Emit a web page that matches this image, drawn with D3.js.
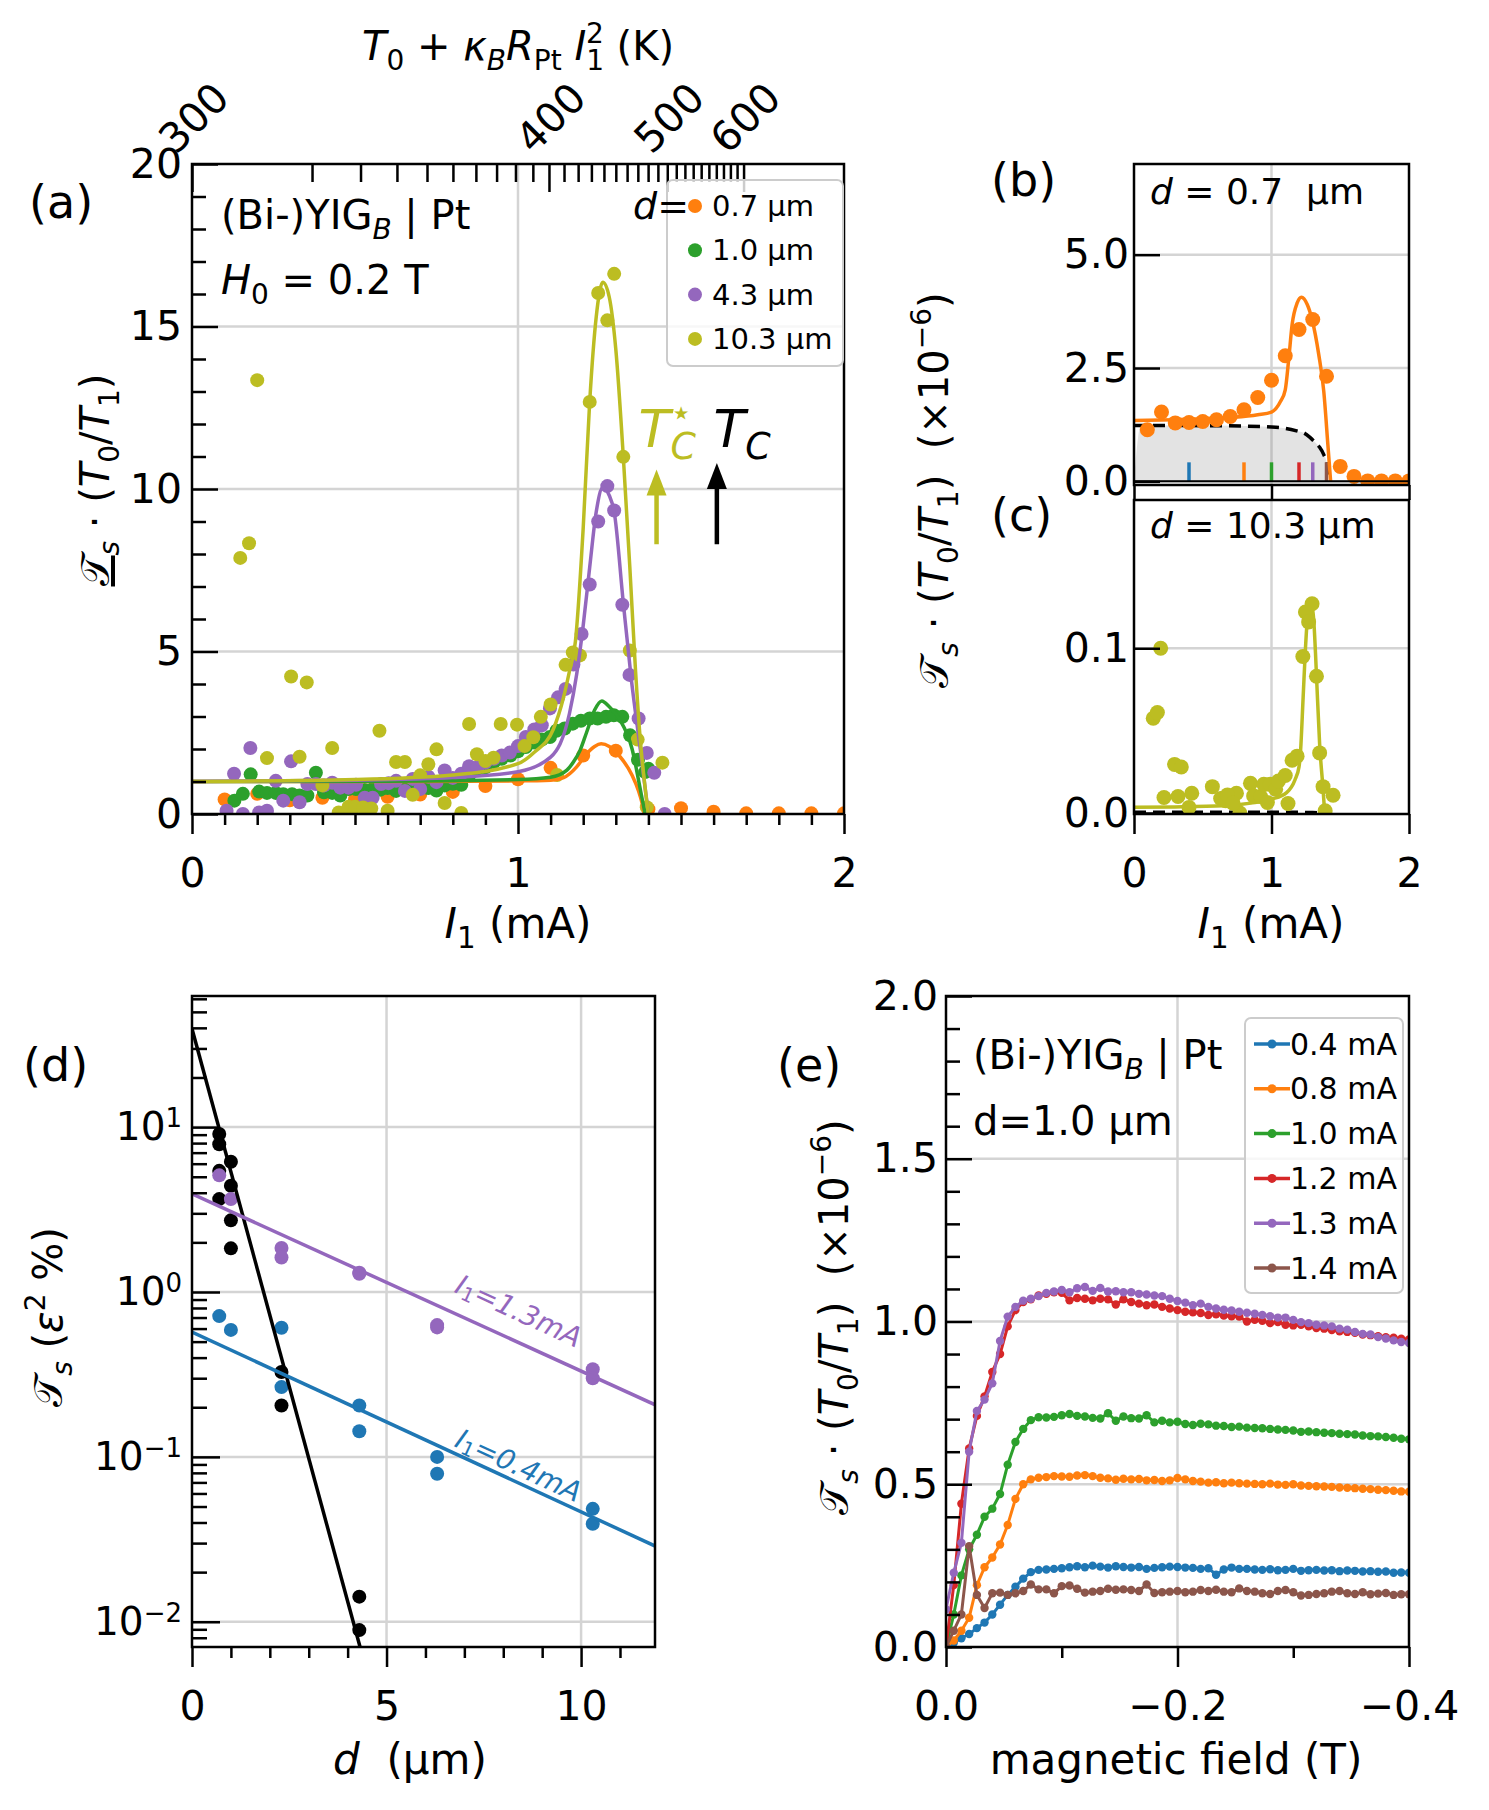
<!DOCTYPE html>
<html>
<head>
<meta charset="utf-8">
<script src="https://cdn.jsdelivr.net/npm/d3@7"></script>
<style>
  body { margin: 0; background: #fff; }
  text { font-family: "DejaVu Sans", sans-serif; fill: #000; white-space: pre; }
</style>
</head>
<body>
<svg id="fig"></svg>
<script>
// ---------------- data ----------------
// (a) normalised signal vs I1 (mA), one array per thickness
var aOrange = [[0.1,0.45],[0.2,0.62],[0.3,0.42],[0.4,0.5],[0.5,0.45],[0.6,0.53],[0.7,0.6],[0.8,0.68],[0.9,0.86],[1.0,1.07],
  [1.1,1.42],[1.2,1.8],[1.3,1.95],[1.4,0.15],[1.5,0.18],[1.6,0.07],[1.7,0.02],[1.8,0.02],[1.9,0.02],[2.0,0.02]];
var aGreen = [[0.13,0.41],[0.156,0.62],[0.18,1.22],[0.206,0.69],[0.23,0.65],[0.257,0.65],[0.28,0.61],[0.307,0.61],[0.33,0.57],
  [0.354,0.57],[0.38,1.27],[0.405,0.67],[0.43,0.65],[0.455,0.57],[0.48,0.77],[0.503,0.77],[0.53,0.74],[0.554,0.77],[0.578,0.75],
  [0.6,0.8],[0.626,0.71],[0.65,0.78],[0.677,0.88],[0.7,0.84],[0.725,0.8],[0.75,0.72],[0.775,0.88],[0.8,0.93],[0.826,0.9],
  [0.85,1.19],[0.876,1.39],[0.9,1.44],[0.926,1.6],[0.95,1.7],[0.977,1.8],[1.0,1.93],[1.024,2.06],[1.05,2.2],[1.073,2.29],
  [1.098,2.37],[1.118,2.56],[1.143,2.63],[1.168,2.78],[1.193,2.87],[1.22,2.94],[1.244,2.94],[1.27,2.99],[1.294,3.04],
  [1.32,2.99],[1.344,2.42],[1.368,1.67],[1.39,1.29],[1.40,1.39]];
var aPurple = [[0.106,0.1],[0.129,1.24],[0.156,0.0],[0.179,2.03],[0.206,0.05],[0.23,0.1],[0.257,1.02],[0.28,0.41],[0.304,1.62],
  [0.33,0.36],[0.354,0.92],[0.38,0.92],[0.405,0.88],[0.43,0.96],[0.455,0.81],[0.48,0.81],[0.503,0.9],[0.53,0.5],[0.554,0.5],
  [0.58,0.92],[0.603,0.95],[0.626,1.02],[0.653,0.71],[0.677,1.08],[0.7,0.77],[0.725,1.15],[0.75,0.98],[0.775,1.34],[0.8,1.11],
  [0.826,1.24],[0.85,1.47],[0.876,1.44],[0.9,1.58],[0.926,1.7],[0.95,1.8],[0.975,1.89],[1.0,2.09],[1.024,2.37],[1.05,2.6],
  [1.073,2.73],[1.098,3.25],[1.123,3.59],[1.146,3.85],[1.17,4.6],[1.195,5.54],[1.22,7.06],[1.246,9.0],[1.274,10.09],
  [1.295,9.34],[1.32,6.44],[1.342,4.28],[1.37,2.94],[1.395,1.88],[1.418,1.27],[1.45,0.0]];
var aOlive = [[0.148,7.88],[0.175,8.33],[0.2,13.35],[0.23,1.72],[0.304,4.23],[0.33,1.76],[0.352,4.05],[0.4,0.88],[0.43,2.03],
  [0.45,0.05],[0.48,0.22],[0.5,0.22],[0.525,0.2],[0.55,0.17],[0.575,2.56],[0.6,0.1],[0.626,1.6],[0.653,1.6],[0.677,0.59],
  [0.7,1.19],[0.725,1.53],[0.75,1.99],[0.775,0.34],[0.826,0.03],[0.85,2.77],[0.874,1.84],[0.9,1.63],[0.925,1.73],[0.947,2.77],
  [0.997,2.75],[1.02,2.09],[1.047,2.36],[1.07,2.99],[1.1,3.37],[1.12,1.2],[1.146,4.59],[1.168,4.97],[1.19,4.88],[1.22,12.68],
  [1.246,16.03],[1.274,15.19],[1.295,16.62],[1.323,10.99],[1.343,5.03],[1.367,2.29],[1.395,0.21],[1.443,1.58]];
// (a) model curves
var aFitOrange = [[0,1.0],[0.6,1.0],[1.0,1.02],[1.1,1.04],[1.14,1.12],[1.18,1.45],[1.21,1.85],[1.235,2.08],[1.255,2.16],
  [1.28,2.08],[1.31,1.8],[1.35,1.19],[1.37,0.7],[1.38,0.36],[1.388,0.0]];
var aFitGreen = [[0,1.0],[0.6,1.01],[1.0,1.06],[1.1,1.13],[1.15,1.35],[1.17,1.6],[1.19,1.95],[1.21,2.5],[1.235,3.2],
  [1.257,3.48],[1.28,3.3],[1.31,2.94],[1.35,2.0],[1.375,0.77],[1.39,0.0]];
var aFitPurple = [[0,1.0],[0.5,1.04],[0.8,1.12],[1.0,1.3],[1.1,1.75],[1.158,3.1],[1.18,4.3],[1.2,5.8],[1.22,7.6],[1.24,9.3],
  [1.26,10.05],[1.28,9.8],[1.295,9.3],[1.323,6.5],[1.347,4.2],[1.375,2.0],[1.40,0.0]];
var aFitOlive = [[0,1.0],[0.5,1.06],[0.8,1.2],[1.0,1.55],[1.05,1.9],[1.108,2.6],[1.14,3.6],[1.158,4.4],[1.176,5.3],[1.2,8.8],
  [1.22,12.7],[1.24,15.3],[1.26,16.36],[1.28,15.9],[1.30,14.3],[1.323,11.0],[1.343,7.6],[1.36,4.5],[1.375,2.3],[1.39,0.8],[1.40,0.0]];
var aLegend = ["0.7 µm", "1.0 µm", "4.3 µm", "10.3 µm"];
var topTemps = d3.range(300, 601, 10);      // K, ticks of the top axis
var topMajor = [300, 400, 500, 600];

// (b) d = 0.7 um, absolute signal (x1e-6)
var bPoints = [[0.097,1.14],[0.2,1.53],[0.3,1.29],[0.4,1.3],[0.5,1.32],[0.6,1.36],[0.7,1.43],[0.8,1.58],[0.9,1.85],[1.0,2.23],
  [1.1,2.77],[1.2,3.35],[1.3,3.57],[1.4,2.32],[1.5,0.33],[1.6,0.11],[1.7,0.01],[1.8,0.01],[1.9,0.01],[2.0,0.01]];
var bFit = [[0,1.34],[0.3,1.36],[0.5,1.38],[0.7,1.41],[0.9,1.47],[1.0,1.53],[1.065,1.76],[1.1,2.02],[1.126,2.72],[1.15,3.46],
  [1.186,3.93],[1.218,4.06],[1.26,3.9],[1.295,3.57],[1.344,2.79],[1.38,1.99],[1.41,0.81],[1.43,0.0]];
var bDashed = [[0,1.23],[0.4,1.23],[0.8,1.22],[1.0,1.2],[1.1,1.17],[1.2,1.1],[1.235,1.07],[1.28,0.97],[1.32,0.85],[1.35,0.75],
  [1.38,0.59],[1.405,0.37],[1.41,0.0]];
var bShade = [[0,0],[0.05,1.23]].concat(bDashed.slice(1));
var bCurrents = [0.4, 0.8, 1.0, 1.2, 1.3, 1.4];

// (c) d = 10.3 um
var cPoints = [[0.194,0.100],[0.14,0.0575],[0.17,0.061],[0.295,0.0295],[0.344,0.0279],[0.218,0.0094],[0.32,0.010],
  [0.42,0.012],[0.4,0.0034],[0.57,0.016],[0.63,0.0088],[0.666,0.0074],[0.745,0.012],[0.77,0.0],[0.847,0.018],[0.87,0.0104],
  [0.92,0.010],[0.944,0.0174],[0.99,0.0174],[0.97,0.0064],[1.03,0.0144],[1.05,0.0194],[1.10,0.0228],[1.12,0.0058],
  [1.15,0.032],[1.186,0.0345],[1.228,0.095],[1.247,0.122],[1.27,0.116],[1.295,0.127],[1.327,0.083],[1.35,0.0365],
  [1.375,0.016],[1.448,0.0108],[1.39,0.0014],[0.68,0.011],[0.72,0.006]];
var cFit = [[0,0.0035],[0.3,0.0037],[0.65,0.0044],[0.85,0.006],[1.0,0.0084],[1.11,0.0124],[1.17,0.02],[1.2,0.028],[1.21,0.036],
  [1.23,0.07],[1.247,0.1],[1.264,0.12],[1.283,0.124],[1.30,0.123],[1.32,0.097],[1.33,0.078],[1.35,0.042],[1.375,0.0144],[1.387,0.0]];
var cDashed = [[0,0.0005],[1.0,0.0005],[1.2,0.0004],[1.3,0.0003],[1.41,0.0]];

// (d) signal vs thickness d (um), log scale
var dBlack = [[0.7,9.08],[0.7,7.87],[0.7,5.43],[0.7,3.66],[1.0,6.17],[1.0,4.41],[1.0,2.72],[1.0,1.84],[2.3,0.327],[2.3,0.205],
  [4.3,0.0142],[4.3,0.0089]];
var dPurple = [[0.7,5.1],[1.0,3.66],[2.3,1.85],[2.3,1.62],[4.3,1.31],[4.3,1.29],[6.3,0.63],[6.3,0.61],[10.3,0.34],[10.3,0.30]];
var dBlue = [[0.7,0.714],[1.0,0.589],[2.3,0.607],[2.3,0.265],[4.3,0.205],[4.3,0.143],[6.3,0.1],[6.3,0.079],[10.3,0.0484],[10.3,0.0393]];
var dFitBlack = [[0,39.5],[4.5,0.0049]];
var dFitPurple = [[0,3.94],[12,0.202]];
var dFitBlue = [[0,0.571],[12,0.0281]];

// (e) field sweeps (T) for d = 1.0 um
var eField = [0,-0.0067,-0.0133,-0.02,-0.0267,-0.0333,-0.04,-0.0467,-0.0533,-0.06,-0.0667,-0.0733,-0.08,-0.0867,-0.0933,
  -0.1,-0.1067,-0.1133,-0.12,-0.1267,-0.1333,-0.14,-0.1467,-0.1533,-0.16,-0.1667,-0.1733,-0.18,-0.1867,-0.1933,-0.2,-0.2067,
  -0.2133,-0.22,-0.2267,-0.2333,-0.24,-0.2467,-0.2533,-0.26,-0.2667,-0.2733,-0.28,-0.2867,-0.2933,-0.3,-0.3067,-0.3133,-0.32,
  -0.3267,-0.3333,-0.34,-0.3467,-0.3533,-0.36,-0.3667,-0.3733,-0.38,-0.3867,-0.3933,-0.4];
var e04 = [0,0.013,0.027,0.04,0.058,0.075,0.1,0.13,0.16,0.185,0.21,0.23,0.237,0.238,0.24,0.242,0.245,0.248,0.245,0.25,0.247,
  0.244,0.248,0.246,0.244,0.246,0.24,0.243,0.245,0.247,0.246,0.244,0.243,0.24,0.242,0.222,0.238,0.244,0.24,0.24,0.238,0.237,
  0.239,0.236,0.237,0.24,0.234,0.236,0.237,0.235,0.236,0.233,0.235,0.234,0.232,0.233,0.231,0.232,0.228,0.229,0.228];
var e08 = [0,0.02,0.05,0.09,0.19,0.245,0.275,0.315,0.375,0.455,0.5,0.515,0.52,0.522,0.525,0.524,0.523,0.527,0.528,0.525,0.52,
  0.518,0.514,0.517,0.515,0.516,0.512,0.513,0.51,0.512,0.519,0.515,0.51,0.508,0.505,0.506,0.503,0.505,0.503,0.502,0.501,0.5,
  0.502,0.499,0.498,0.5,0.496,0.495,0.494,0.493,0.492,0.49,0.489,0.488,0.486,0.485,0.483,0.482,0.48,0.478,0.477];
var e10 = [0,0.1,0.22,0.3,0.345,0.4,0.425,0.47,0.56,0.63,0.67,0.697,0.706,0.705,0.707,0.712,0.716,0.71,0.708,0.704,0.702,
  0.718,0.695,0.708,0.703,0.702,0.712,0.69,0.695,0.69,0.692,0.685,0.682,0.686,0.684,0.68,0.679,0.676,0.677,0.674,0.673,0.672,
  0.67,0.668,0.667,0.665,0.661,0.662,0.66,0.658,0.657,0.655,0.654,0.653,0.65,0.648,0.647,0.645,0.643,0.64,0.638];
var e12 = [0,0.19,0.44,0.61,0.71,0.77,0.845,0.9,0.985,1.035,1.06,1.068,1.08,1.085,1.09,1.088,1.065,1.072,1.07,1.065,1.07,
  1.068,1.052,1.068,1.06,1.055,1.05,1.052,1.045,1.04,1.035,1.03,1.028,1.026,1.02,1.022,1.018,1.016,1.015,1.0,1.005,1.002,
  0.995,0.998,0.99,0.988,0.99,0.985,0.98,0.978,0.974,0.97,0.968,0.965,0.96,0.958,0.955,0.952,0.95,0.947,0.945];
var e13 = [0.116,0.228,0.32,0.6,0.725,0.76,0.81,0.94,1.015,1.045,1.064,1.07,1.078,1.088,1.092,1.097,1.09,1.102,1.106,1.094,
  1.103,1.092,1.093,1.09,1.09,1.085,1.083,1.08,1.078,1.07,1.063,1.058,1.05,1.055,1.045,1.04,1.036,1.034,1.03,1.027,1.024,
  1.02,1.016,1.012,1.012,1.005,0.998,0.995,0.99,0.988,0.985,0.978,0.975,0.968,0.962,0.96,0.952,0.948,0.942,0.937,0.934];
var e14 = [0.0,0.05,0.1,0.31,0.16,0.12,0.165,0.167,0.16,0.165,0.172,0.192,0.177,0.177,0.165,0.187,0.189,0.179,0.167,0.17,
  0.172,0.179,0.176,0.177,0.175,0.172,0.192,0.166,0.168,0.17,0.172,0.168,0.17,0.175,0.172,0.176,0.17,0.168,0.18,0.172,0.17,
  0.165,0.163,0.172,0.175,0.168,0.158,0.16,0.163,0.165,0.17,0.172,0.165,0.163,0.168,0.162,0.164,0.166,0.16,0.162,0.162];
var eLabels = ["0.4 mA", "0.8 mA", "1.0 mA", "1.2 mA", "1.3 mA", "1.4 mA"];

// ---------------- figure ----------------
var W = 1489, H = 1810;
var tab = {blue:"#1f77b4", orange:"#ff7f0e", green:"#2ca02c", red:"#d62728", purple:"#9467bd", brown:"#8c564b", olive:"#bcbd22"};
var GRID = "#d4d4d4", TICK_FS = 41, LAB_FS = 42, ANN_FS = 40, PANEL_FS = 46;

var svg = d3.select("#fig").attr("width", W).attr("height", H);
svg.append("rect").attr("width", W).attr("height", H).attr("fill", "#fff");
var defs = svg.append("defs");

var boxA = {x0:192, x1:844, y0:164, y1:814};
var boxB = {x0:1134, x1:1409, y0:164, y1:485};
var boxC = {x0:1134, x1:1409, y0:500, y1:814};
var boxD = {x0:192, x1:655, y0:996, y1:1647};
var boxE = {x0:946, x1:1409, y0:996, y1:1647};

// text with italic / sub / sup pieces
function rich(sel, size, parts) {
  var shift = 0;
  parts.forEach(function(p) {
    var target = p.b === "sub" ? 0.24 * size : p.b === "sup" ? -0.42 * size : 0;
    var ts = sel.append("tspan").text(p.t)
      .attr("font-size", p.b ? size * 0.7 : size)
      .attr("dy", target - shift);
    if (p.dx) ts.attr("dx", p.dx);
    if (p.i) ts.attr("font-style", "italic");
    if (p.u) ts.attr("text-decoration", "underline");
    shift = target;
  });
  return sel;
}

function clipped(id, b) {
  defs.append("clipPath").attr("id", id).append("rect")
    .attr("x", b.x0).attr("y", b.y0).attr("width", b.x1 - b.x0).attr("height", b.y1 - b.y0);
  return svg.append("g").attr("clip-path", "url(#" + id + ")");
}

function grid(b, x, y, xs, ys) {
  var g = svg.append("g");
  g.selectAll(".gx").data(xs).join("line").attr("x1", x).attr("x2", x).attr("y1", b.y0).attr("y2", b.y1)
    .attr("stroke", GRID).attr("stroke-width", 2.5);
  g.selectAll(".gy").data(ys).join("line").attr("y1", y).attr("y2", y).attr("x1", b.x0).attr("x2", b.x1)
    .attr("stroke", GRID).attr("stroke-width", 2.5);
}

function spines(b) {
  svg.append("rect").attr("x", b.x0).attr("y", b.y0).attr("width", b.x1 - b.x0).attr("height", b.y1 - b.y0)
    .attr("fill", "none").attr("stroke", "#000").attr("stroke-width", 2.5);
}

function addAxis(gen, tx, ty) {
  var g = svg.append("g").attr("transform", "translate(" + tx + "," + ty + ")").call(gen);
  g.select(".domain").remove();
  g.attr("font-size", null).attr("font-family", null);
  g.selectAll(".tick line").attr("stroke", "#000").attr("stroke-width", 2.5);
  g.selectAll(".tick text").attr("font-size", TICK_FS).attr("fill", "#000");
  return g;
}

function dots(g, data, x, y, r, color) {
  g.append("g").selectAll("circle").data(data).join("circle")
    .attr("cx", function(d) { return x(d[0]); }).attr("cy", function(d) { return y(d[1]); })
    .attr("r", r).attr("fill", color);
}

function curve(g, data, x, y, color, w, dash, kind) {
  var line = d3.line().x(function(d) { return x(d[0]); }).y(function(d) { return y(d[1]); })
    .curve(kind || d3.curveMonotoneX);
  var p = g.append("path").datum(data).attr("d", line).attr("fill", "none")
    .attr("stroke", color).attr("stroke-width", w).attr("stroke-linejoin", "round");
  if (dash) p.attr("stroke-dasharray", dash);
  return p;
}

function label(x, y, size, parts, rotate, anchor) {
  var t = svg.append("text").attr("text-anchor", anchor || "middle");
  if (rotate) t.attr("transform", "translate(" + x + "," + y + ") rotate(" + rotate + ")");
  else t.attr("x", x).attr("y", y);
  return rich(t, size, parts);
}

var scriptT = [{t:"𝒯"}, {t:"s", i:1, b:"sub"}];
var ratio = [{t:" · ("}, {t:"T", i:1}, {t:"0", b:"sub"}, {t:"/"}, {t:"T", i:1}, {t:"1", b:"sub"}, {t:")"}];
var times6 = [{t:"  (×10"}, {t:"−6", b:"sup"}, {t:")"}];

// ================= panel (a) =================
var xA = d3.scaleLinear().domain([0, 2]).range([boxA.x0, boxA.x1]);
var yA = d3.scaleLinear().domain([0, 20]).range([boxA.y1, boxA.y0]);
// top axis: heater temperature as function of I1
function tempToI(T) { var dT = T - 300; return Math.sqrt(dT / (72.7 + 0.107 * dT)); }

grid(boxA, xA, yA, [1], [5, 10, 15]);
var gA = clipped("clipA", boxA);
dots(gA, aOrange, xA, yA, 7, tab.orange);
dots(gA, aGreen, xA, yA, 7, tab.green);
dots(gA, aPurple, xA, yA, 7, tab.purple);
dots(gA, aOlive, xA, yA, 7, tab.olive);
curve(gA, aFitOrange, xA, yA, tab.orange, 3.5);
curve(gA, aFitGreen, xA, yA, tab.green, 3.5);
curve(gA, aFitPurple, xA, yA, tab.purple, 3.5);
curve(gA, aFitOlive, xA, yA, tab.olive, 3.5);
spines(boxA);

addAxis(d3.axisBottom(xA).tickValues([0, 1, 2]).tickSize(20).tickPadding(24).tickFormat(d3.format("d")), 0, boxA.y1);
addAxis(d3.axisBottom(xA).tickValues(d3.range(1, 20).map(function(i) { return i / 10; }).filter(function(v) { return v !== 1; }))
  .tickSize(11).tickFormat(""), 0, boxA.y1);
addAxis(d3.axisLeft(yA).tickValues([0, 5, 10, 15, 20]).tickSize(-26).tickPadding(10).tickFormat(d3.format("d")), boxA.x0, 0);
addAxis(d3.axisLeft(yA).tickValues(d3.range(1, 20).filter(function(v) { return v % 5; })).tickSize(-14).tickFormat(""), boxA.x0, 0);
addAxis(d3.axisTop(xA).tickValues(topTemps.filter(function(T) { return topMajor.indexOf(T) < 0; }).map(tempToI))
  .tickSize(-18).tickFormat(""), 0, boxA.y0);
addAxis(d3.axisTop(xA).tickValues(topMajor.map(tempToI)).tickSize(-28).tickFormat(""), 0, boxA.y0);
svg.append("g").selectAll("text").data(topMajor).join("text")
  .attr("transform", function(T) { return "translate(" + (xA(tempToI(T)) + 2) + "," + (boxA.y0 - 46) + ") rotate(-45)"; })
  .attr("text-anchor", "middle").attr("dominant-baseline", "central").attr("font-size", TICK_FS)
  .text(function(T) { return T; });

label(518, 60, ANN_FS, [{t:"T", i:1}, {t:"0", b:"sub"}, {t:" + "}, {t:"κ", i:1}, {t:"B", i:1, b:"sub"}, {t:"R", i:1},
  {t:"Pt", b:"sub"}, {t:" "}, {t:"I", i:1}, {t:"1", b:"sub"}, {t:"2", b:"sup", dx:-18}, {t:" (K)"}]);
label(518, 938, LAB_FS, [{t:"I", i:1}, {t:"1", b:"sub"}, {t:" (mA)"}]);
label(109, 480, ANN_FS, [{t:"𝒯", u:1}, {t:"s", i:1, b:"sub"}].concat(ratio), -90);
label(29, 218, PANEL_FS, [{t:"(a)"}], 0, "start");
label(221, 229, ANN_FS, [{t:"(Bi-)YIG"}, {t:"B", i:1, b:"sub"}, {t:" | Pt"}], 0, "start");
label(221, 294, ANN_FS, [{t:"H", i:1}, {t:"0", b:"sub"}, {t:" = 0.2 T"}], 0, "start");

// legend (a)
svg.append("rect").attr("x", 667).attr("y", 180).attr("width", 176).attr("height", 186).attr("rx", 6)
  .attr("fill", "#fff").attr("fill-opacity", 0.8).attr("stroke", "#cccccc").attr("stroke-width", 2);
var aLegColors = [tab.orange, tab.green, tab.purple, tab.olive];
var legA = svg.append("g").selectAll("g").data(aLegend).join("g")
  .attr("transform", function(d, i) { return "translate(695," + (206 + i * 44.3) + ")"; });
legA.append("circle").attr("r", 7).attr("fill", function(d, i) { return aLegColors[i]; });
legA.append("text").attr("x", 17).attr("dominant-baseline", "central").attr("font-size", 29).text(function(d) { return d; });
rich(svg.append("text").attr("x", 689).attr("y", 206).attr("text-anchor", "end").attr("dominant-baseline", "central"), 38,
  [{t:"d", i:1}, {t:"="}]);

// Tc markers
function arrow(I, y0, y1, color) {
  var x = xA(I), yb = yA(y0), yt = yA(y1), hw = 10, hl = 26;
  svg.append("line").attr("x1", x).attr("x2", x).attr("y1", yb).attr("y2", yt + hl - 2)
    .attr("stroke", color).attr("stroke-width", 4.5);
  svg.append("path").attr("d", "M" + x + "," + yt + "L" + (x - hw) + "," + (yt + hl) + "L" + (x + hw) + "," + (yt + hl) + "Z")
    .attr("fill", color);
}
arrow(1.425, 8.3, 10.6, tab.olive);
arrow(1.61, 8.3, 10.8, "#000");
rich(svg.append("text").attr("x", xA(1.37)).attr("y", yA(11.3)).style("fill", tab.olive), 52,
  [{t:"T", i:1}, {t:"C", i:1, b:"sub"}, {t:"⋆", b:"sup", dx:-26}]).selectAll("tspan").style("fill", tab.olive);
rich(svg.append("text").attr("x", xA(1.60)).attr("y", yA(11.3)), 52, [{t:"T", i:1}, {t:"C", i:1, b:"sub"}]);

// ================= panel (b) =================
var xB = d3.scaleLinear().domain([0, 2]).range([boxB.x0, boxB.x1]);
var yB = d3.scaleLinear().domain([-0.08, 7]).range([boxB.y1, boxB.y0]);
grid(boxB, xB, yB, [1], [0, 2.5, 5]);
var gB = clipped("clipB", boxB);
gB.append("path").datum(bShade)
  .attr("d", d3.area().x(function(d) { return xB(d[0]); }).y0(yB(0)).y1(function(d) { return yB(d[1]); }).curve(d3.curveMonotoneX))
  .attr("fill", "#8c8c8c").attr("fill-opacity", 0.24);
curve(gB, bDashed, xB, yB, "#000", 3.5, "12,7");
gB.append("g").selectAll("line").data(bCurrents).join("line")
  .attr("x1", xB).attr("x2", xB).attr("y1", yB(0)).attr("y2", yB(0.42))
  .attr("stroke", function(d, i) { return [tab.blue, tab.orange, tab.green, tab.red, tab.purple, tab.brown][i]; })
  .attr("stroke-width", 3.5);
curve(gB, bFit, xB, yB, tab.orange, 3.5);
dots(gB, bPoints, xB, yB, 7.5, tab.orange);
svg.append("line").attr("x1", boxB.x0).attr("x2", boxB.x1).attr("y1", yB(0)).attr("y2", yB(0)).attr("stroke", "#000").attr("stroke-width", 2);
spines(boxB);
addAxis(d3.axisLeft(yB).tickValues([0, 2.5, 5]).tickSize(-26).tickPadding(5).tickFormat(d3.format(".1f")), boxB.x0, 0);
addAxis(d3.axisBottom(xB).tickValues([0, 1, 2]).tickSize(15).tickFormat(""), 0, boxB.y1);
label(991, 196, PANEL_FS, [{t:"(b)"}], 0, "start");
label(1150, 204, 36, [{t:"d", i:1}, {t:" = 0.7  µm"}], 0, "start");

// ================= panel (c) =================
var yC = d3.scaleLinear().domain([-0.0006, 0.19]).range([boxC.y1, boxC.y0]);
grid(boxC, xB, yC, [1], [0.1]);
var gC = clipped("clipC", boxC);
curve(gC, cDashed, xB, yC, "#000", 3.5, "12,7");
curve(gC, cFit, xB, yC, tab.olive, 3.5);
dots(gC, cPoints, xB, yC, 7.5, tab.olive);
spines(boxC);
addAxis(d3.axisLeft(yC).tickValues([0, 0.1]).tickSize(-26).tickPadding(5).tickFormat(d3.format(".1f")), boxC.x0, 0);
addAxis(d3.axisBottom(xB).tickValues([0, 1, 2]).tickSize(20).tickPadding(24).tickFormat(d3.format("d")), 0, boxC.y1);
label(1271, 938, LAB_FS, [{t:"I", i:1}, {t:"1", b:"sub"}, {t:" (mA)"}]);
label(991, 531, PANEL_FS, [{t:"(c)"}], 0, "start");
label(1150, 538, 36, [{t:"d", i:1}, {t:" = 10.3 µm"}], 0, "start");
label(948, 490, ANN_FS, scriptT.concat(ratio, times6), -90);

// ================= panel (d) =================
var xD = d3.scaleLinear().domain([0, 11.9]).range([boxD.x0, boxD.x1]);
var yD = d3.scaleLog().domain([0.00703, 62.4]).range([boxD.y1, boxD.y0]);
var dMajor = [0.01, 0.1, 1, 10];
var dMinor = [];
[-3, -2, -1, 0, 1].forEach(function(k) {
  d3.range(2, 10).forEach(function(m) {
    var v = m * Math.pow(10, k);
    if (v > 0.00703 && v < 62.4) dMinor.push(v);
  });
});
grid(boxD, xD, yD, [5, 10], dMajor);
var gD = clipped("clipD", boxD);
dots(gD, dBlack, xD, yD, 7, "#000");
dots(gD, dPurple, xD, yD, 7, tab.purple);
dots(gD, dBlue, xD, yD, 7, tab.blue);
curve(gD, dFitBlack, xD, yD, "#000", 3.5, null, d3.curveLinear);
curve(gD, dFitPurple, xD, yD, tab.purple, 3.5, null, d3.curveLinear);
curve(gD, dFitBlue, xD, yD, tab.blue, 3.5, null, d3.curveLinear);
spines(boxD);
addAxis(d3.axisBottom(xD).tickValues([0, 5, 10]).tickSize(20).tickPadding(24).tickFormat(d3.format("d")), 0, boxD.y1);
addAxis(d3.axisBottom(xD).tickValues([1, 2, 3, 4, 6, 7, 8, 9, 11]).tickSize(11).tickFormat(""), 0, boxD.y1);
var gDy = addAxis(d3.axisLeft(yD).tickValues(dMajor).tickSize(-28).tickPadding(10).tickFormat(""), boxD.x0, 0);
gDy.selectAll(".tick text").attr("font-size", 39).each(function(d) {
  var t = d3.select(this);
  t.append("tspan").text("10");
  t.append("tspan").attr("dy", "-0.5em").attr("font-size", 26).text(d3.format("d")(Math.round(Math.log10(d))));
});
addAxis(d3.axisLeft(yD).tickValues(dMinor).tickSize(-15).tickFormat(""), boxD.x0, 0);

function lineLabel(fit, at, value, color, txt) {
  var ang = Math.atan2(yD(fit[1][1]) - yD(fit[0][1]), xD(fit[1][0]) - xD(fit[0][0])) * 180 / Math.PI;
  var t = svg.append("text").attr("text-anchor", "middle").attr("dominant-baseline", "central")
    .attr("transform", "translate(" + xD(at) + "," + yD(value) + ") rotate(" + ang + ")");
  rich(t, 28, [{t:"I", i:1}, {t:"1", b:"sub"}, {t:txt, i:1}]).selectAll("tspan").style("fill", color);
}
lineLabel(dFitPurple, 8.4, 0.77, tab.purple, "=1.3mA");
lineLabel(dFitBlue, 8.4, 0.089, tab.blue, "=0.4mA");

label(410, 1774, LAB_FS, [{t:"d", i:1}, {t:"  (µm)"}]);
label(62, 1317, ANN_FS, scriptT.concat([{t:" ("}, {t:"ε", i:1}, {t:"2", b:"sup"}, {t:" %)"}]), -90);
label(23, 1081, PANEL_FS, [{t:"(d)"}], 0, "start");

// ================= panel (e) =================
var xE = d3.scaleLinear().domain([0, -0.4]).range([boxE.x0, boxE.x1]);
var yE = d3.scaleLinear().domain([0, 2]).range([boxE.y1, boxE.y0]);
grid(boxE, xE, yE, [-0.2], [0.5, 1.0, 1.5]);
var gE = clipped("clipE", boxE);
var eSeries = [e04, e08, e10, e12, e13, e14];
var eColors = [tab.blue, tab.orange, tab.green, tab.red, tab.purple, tab.brown];
eSeries.forEach(function(vals, k) {
  var pts = vals.map(function(v, i) { return [eField[i], v]; });
  curve(gE, pts, xE, yE, eColors[k], 3, null, d3.curveLinear);
  dots(gE, pts, xE, yE, 4.2, eColors[k]);
});
spines(boxE);
addAxis(d3.axisBottom(xE).tickValues([0, -0.2, -0.4]).tickSize(20).tickPadding(24).tickFormat(d3.format(".1f")), 0, boxE.y1);
addAxis(d3.axisBottom(xE).tickValues([-0.1, -0.3]).tickSize(11).tickFormat(""), 0, boxE.y1);
addAxis(d3.axisLeft(yE).tickValues([0, 0.5, 1, 1.5, 2]).tickSize(-26).tickPadding(8).tickFormat(d3.format(".1f")), boxE.x0, 0);
addAxis(d3.axisLeft(yE).tickValues(d3.range(1, 20).filter(function(i) { return i % 5; }).map(function(i) { return i / 10; }))
  .tickSize(-14).tickFormat(""), boxE.x0, 0);
label(1176, 1774, LAB_FS, [{t:"magnetic field (T)"}]);
label(848, 1317, ANN_FS, scriptT.concat(ratio, times6), -90);
label(777, 1081, PANEL_FS, [{t:"(e)"}], 0, "start");
label(973, 1069, ANN_FS, [{t:"(Bi-)YIG"}, {t:"B", i:1, b:"sub"}, {t:" | Pt"}], 0, "start");
label(973, 1135, ANN_FS, [{t:"d=1.0 µm"}], 0, "start");

// legend (e)
svg.append("rect").attr("x", 1245).attr("y", 1018).attr("width", 158).attr("height", 275).attr("rx", 6)
  .attr("fill", "#fff").attr("fill-opacity", 0.8).attr("stroke", "#cccccc").attr("stroke-width", 2);
var legE = svg.append("g").selectAll("g").data(eLabels).join("g")
  .attr("transform", function(d, i) { return "translate(1254," + (1044 + i * 44.8) + ")"; });
legE.append("line").attr("x1", 0).attr("x2", 36).attr("stroke", function(d, i) { return eColors[i]; }).attr("stroke-width", 3.5);
legE.append("circle").attr("cx", 18).attr("r", 4.5).attr("fill", function(d, i) { return eColors[i]; });
legE.append("text").attr("x", 36).attr("dominant-baseline", "central").attr("font-size", 30).text(function(d) { return d; });
</script>
</body>
</html>
